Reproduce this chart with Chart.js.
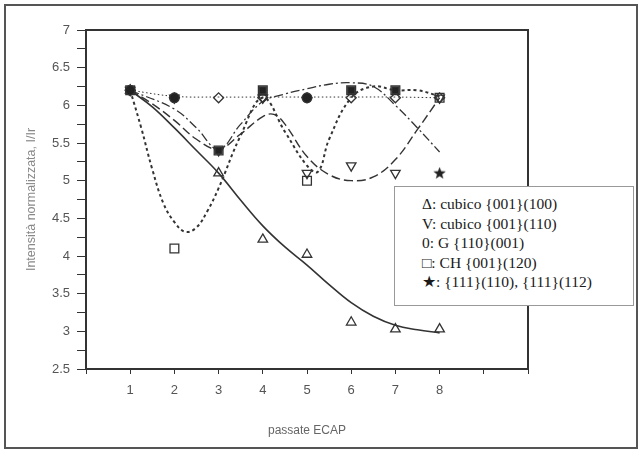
<!DOCTYPE html>
<html>
<head>
<meta charset="utf-8">
<script src="https://cdn.jsdelivr.net/npm/chart.js@4"></script>
<style>
    body { margin: 0; background: #fff; }
    #wrap { position: relative; width: 642px; height: 452px; }
    #frame { position: absolute; left: 4px; top: 4px; width: 630px; height: 441px; border: 2px solid #555; }
    #myChart { position: absolute; left: 0; top: 0; }
    #legendBox {
        position: absolute; left: 394px; top: 186px; width: 240px; height: 120px;
        box-sizing: border-box; background: #fff; border: 1px solid #999;
        padding: 7px 0 0 27px; font-family: "Liberation Serif", serif; font-size: 15.5px;
        color: #1a1a1a; line-height: 19.5px; white-space: nowrap;
    }
</style>
</head>
<body>
<div id="wrap">
    <div id="frame"></div>
    <canvas id="myChart" width="642" height="452"></canvas>
    <div id="legendBox"></div>
</div>
<script>
// measured points
const passes = [1, 2, 3, 4, 5, 6, 7, 8]
const cubeA = [6.2, null, 5.1, 4.22, 4.02, 3.12, 3.03, 3.03]     // Δ cubico {001}<100>
const cubeB = [6.2, 6.1, 5.4, 6.1, 5.1, 5.2, 5.1, 6.1]           // ∇ cubico {001}<110>
const gossPts = [6.2, 6.1, 6.1, 6.1, 6.1, 6.1, 6.1, 6.1]         // G {110}<001>
const chPts = [6.2, 4.1, 5.4, 6.2, 5.0, 6.2, 6.2, 6.1]           // CH {001}<120>
const starPts = [6.2, 6.1, 5.4, 6.2, 6.1, 6.2, 6.2, 5.1]         // {111}<110>, {111}<112>

// fitted curves
const fitAx = [1, 1.5, 2, 2.5, 3, 3.5, 4, 4.5, 5, 5.5, 6, 6.5, 7, 7.5, 8]
const fitAy = [6.2, 5.98, 5.7, 5.4, 5.1, 4.74, 4.4, 4.12, 3.88, 3.62, 3.38, 3.2, 3.08, 3.02, 2.98]
const fitBx = [1, 1.5, 2, 2.5, 3, 3.5, 4, 4.25, 4.5, 5, 5.5, 6, 6.5, 7, 7.5, 8]
const fitBy = [6.2, 6.02, 5.8, 5.55, 5.42, 5.62, 5.85, 5.88, 5.75, 5.32, 5.08, 5.0, 5.05, 5.28, 5.68, 6.1]
const fitCx = [1, 1.25, 1.5, 1.75, 2, 2.25, 2.5, 2.75, 3, 3.5, 4, 4.5, 5, 5.25, 5.5, 6, 6.5, 7, 7.5, 8]
const fitCy = [6.2, 5.7, 5.15, 4.7, 4.45, 4.32, 4.38, 4.6, 4.9, 5.6, 6.1, 5.65, 5.2, 5.12, 5.55, 6.1, 6.25, 6.2, 6.2, 6.12]
const fitDx = [1, 2, 3, 4, 5, 6, 7, 8]
const fitDy = [6.2, 6.12, 6.11, 6.11, 6.11, 6.11, 6.11, 6.1]
const fitEx = [1, 2, 2.5, 3, 3.5, 4, 4.5, 5, 5.5, 6, 6.5, 7, 7.5, 8]
const fitEy = [6.2, 5.95, 5.7, 5.42, 5.75, 6.05, 6.15, 6.22, 6.28, 6.3, 6.25, 6.0, 5.7, 5.38]

const legendLines = [
    'Δ: cubico {001}(100)',
    'V: cubico {001}(110)',
    '0: G {110}(001)',
    '□: CH {001}(120)',
    '★: {111}(110), {111}(112)'
]

function pts(xs, ys) {
    let out = []
    for (let i = 0; i < xs.length; i++) {
        if (ys[i] !== null) out.push({ x: xs[i], y: ys[i] })
    }
    return out
}

function makeStar() {
    let c = document.createElement('canvas')
    c.width = 13; c.height = 13
    let g = c.getContext('2d')
    g.fillStyle = '#222'
    g.beginPath()
    for (let i = 0; i < 10; i++) {
        let r = i % 2 === 0 ? 6.5 : 2.7
        let a = -Math.PI / 2 + i * Math.PI / 5
        g.lineTo(6.5 + r * Math.cos(a), 6.8 + r * Math.sin(a))
    }
    g.closePath()
    g.fill()
    return c
}

const ink = '#333'

function curve(xs, ys, dash, width) {
    return {
        type: 'line', data: pts(xs, ys), borderColor: ink, borderWidth: width,
        borderDash: dash, pointRadius: 0, tension: 0.4, fill: false, order: 2
    }
}

function marks(ys, style, radius, extra) {
    return Object.assign({
        type: 'line', data: pts(passes, ys), showLine: false, pointStyle: style,
        pointRadius: radius, borderColor: ink, pointBorderWidth: 1.3,
        backgroundColor: 'rgba(0,0,0,0)', order: 1
    }, extra || {})
}

const frame = {
    id: 'frame',
    afterDraw(chart) {
        let a = chart.chartArea, ctx = chart.ctx
        ctx.save()
        ctx.strokeStyle = ink
        ctx.lineWidth = 2
        ctx.strokeRect(a.left, a.top, a.right - a.left, a.bottom - a.top)
        ctx.restore()
    }
}

function renderChart() {
    let starImg = makeStar()
    let ctx = document.getElementById('myChart').getContext('2d')
    let tickFont = { family: 'Liberation Sans', size: 13 }
    new Chart(ctx, {
        data: {
            datasets: [
                marks(starPts, ['circle', 'circle', 'rect', 'rect', 'circle', 'rect', 'rect', starImg], 4.8,
                    { backgroundColor: '#222', order: 0 }),
                marks(cubeA, 'triangle', 5.5),
                marks(cubeB, 'triangle', 5.5, { pointRotation: 180 }),
                marks(gossPts, 'rectRot', 5),
                marks(chPts, 'rect', 6.2),
                curve(fitAx, fitAy, [], 1.6),
                curve(fitBx, fitBy, [9, 4], 1.4),
                curve(fitCx, fitCy, [3, 3], 2),
                curve(fitDx, fitDy, [1.5, 2.5], 1),
                curve(fitEx, fitEy, [9, 3, 2, 3], 1.3)
            ]
        },
        options: {
            responsive: false,
            animation: false,
            layout: { padding: { left: 20, top: 30, right: 114, bottom: 10 } },
            plugins: { legend: { display: false }, tooltip: { enabled: false } },
            scales: {
                x: {
                    type: 'linear', min: 0, max: 10,
                    afterFit: s => { s.height = 73 },
                    ticks: {
                        stepSize: 1, autoSkip: false, padding: 9, color: '#555', font: tickFont,
                        callback: v => passes.includes(v) ? String(v) : ''
                    },
                    grid: { drawOnChartArea: false, drawTicks: true, tickLength: 5, color: ink },
                    border: { color: ink, width: 2 },
                    title: { display: true, text: 'passate ECAP', color: '#666', font: { family: 'Liberation Sans', size: 12 } }
                },
                y: {
                    min: 2.5, max: 7,
                    afterFit: s => { s.width = 66 },
                    ticks: {
                        stepSize: 0.25, autoSkip: false, padding: 7, color: '#555', font: tickFont,
                        callback: v => Math.round(v * 100) % 50 === 0 ? String(v) : ''
                    },
                    grid: { drawOnChartArea: false, drawTicks: true, tickLength: 9, color: ink },
                    border: { color: ink, width: 2 },
                    title: { display: true, text: 'Intensità normalizzata, I/Ir', color: '#888', font: { family: 'Liberation Sans', size: 12.5 } }
                }
            }
        },
        plugins: [frame]
    })
    document.getElementById('legendBox').innerHTML = legendLines.map(t => '<div>' + t + '</div>').join('')
}

renderChart()
</script>
</body>
</html>
